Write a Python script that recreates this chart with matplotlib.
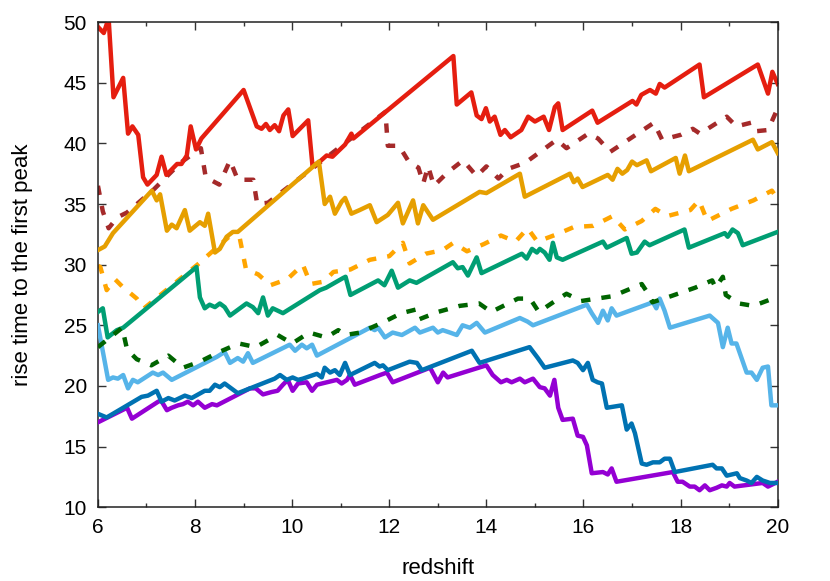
import matplotlib
matplotlib.use("Agg")
import matplotlib.pyplot as plt

plt.rcParams["font.family"] = ["Liberation Sans", "DejaVu Sans"]

# ---------------------------------------------------------------------
# Data
# ---------------------------------------------------------------------
red_x = [6.0, 6.12, 6.22, 6.32, 6.52, 6.62, 6.71, 6.83, 6.93, 7.02, 7.21, 7.31, 7.41,
         7.63, 7.72, 7.83, 7.91, 8.02, 8.13, 9.0, 9.27, 9.37, 9.46, 9.54, 9.64, 9.73,
         9.82, 9.92, 10.01, 10.33, 10.42, 10.57, 10.71, 10.83, 11.09, 11.22, 11.26,
         13.32, 13.39, 13.69, 13.8, 13.9, 13.99, 14.07, 14.17, 14.29, 14.38, 14.5,
         14.72, 14.86, 15.0, 15.18, 15.29, 15.41, 15.48, 15.57, 16.18, 16.29, 17.01,
         17.09, 17.19, 17.37, 17.49, 17.57, 17.67, 18.39, 18.48, 19.59, 19.8, 19.89, 20.0]
red_y = [49.6, 49.1, 50.3, 43.8, 45.4, 40.8, 41.4, 40.7, 37.2, 36.6, 37.4, 38.9, 37.4,
         38.3, 38.3, 39.0, 41.4, 39.5, 40.4, 44.4, 41.4, 41.2, 41.6, 41.1, 41.5, 41.0,
         42.3, 42.8, 40.6, 41.9, 38.1, 38.5, 39.0, 38.9, 39.9, 40.8, 40.4,
         47.2, 43.2, 44.2, 42.3, 42.0, 42.9, 41.8, 42.2, 40.7, 41.1, 40.5,
         41.1, 42.2, 41.8, 42.2, 41.1, 43.0, 43.3, 41.1, 42.7, 41.7, 43.5,
         43.2, 44.0, 44.4, 44.1, 44.9, 44.6, 46.5, 43.8, 46.5, 44.1, 45.9, 44.9]

brown_x = [6.0, 6.1, 6.22, 6.4, 6.6, 7.15, 7.7, 8.12, 8.22, 8.5, 8.72, 8.88, 9.2, 9.28,
           9.5, 11.92, 11.97, 12.2, 12.4, 12.6, 12.7, 12.8, 12.92, 13.2, 13.52, 13.8,
           14.0, 14.25, 14.45, 14.8, 15.45, 15.65, 16.1, 16.3, 16.55, 17.0, 17.45,
           17.62, 18.0, 18.25, 18.4, 18.95, 19.15, 19.45, 19.55, 19.8, 20.0]
brown_y = [36.5, 34.4, 33.0, 33.9, 34.3, 36.2, 38.4, 39.6, 37.2, 36.6, 38.6, 37.0, 37.0, 35.0,
           35.1, 42.6, 39.8, 39.8, 38.5, 38.0, 36.7, 38.1, 36.5, 37.6, 38.6, 37.3,
           38.1, 37.1, 37.9, 38.4, 40.3, 39.6, 40.8, 40.4, 39.3, 40.5, 41.7,
           40.3, 40.7, 41.2, 40.8, 42.2, 41.4, 41.7, 41.0, 41.1, 42.9]

orange_x = [6.0, 6.14, 6.31, 7.11, 7.21, 7.28, 7.42, 7.52, 7.62, 7.79, 7.89, 8.1, 8.2, 8.27,
            8.41, 8.51, 8.65, 8.78, 8.88, 10.55, 10.67, 10.78, 10.88, 11.02, 11.09, 11.22,
            11.39, 11.6, 11.74, 11.97, 12.18, 12.28, 12.49, 12.59, 12.7, 12.9, 13.86, 14.0,
            14.69, 14.79, 15.72, 15.8, 15.88, 15.98, 16.5, 16.6, 16.7, 16.8, 16.9, 17.0,
            17.1, 17.3, 17.39, 17.9, 17.98, 18.09, 18.17, 19.49, 19.59, 19.88, 20.0]
orange_y = [31.2, 31.5, 32.6, 36.1, 35.3, 35.8, 32.8, 33.3, 33.0, 34.5, 32.8, 33.5, 33.2, 34.2,
            31.0, 31.3, 32.3, 32.7, 32.7, 38.5, 35.0, 35.6, 34.2, 35.2, 35.5, 34.2,
            34.5, 34.9, 33.5, 34.1, 35.1, 33.4, 35.3, 33.4, 34.9, 33.7, 36.0, 35.9,
            37.5, 35.6, 37.5, 36.8, 37.1, 36.4, 37.4, 37.0, 37.9, 37.5, 37.8, 38.5,
            38.2, 38.6, 37.7, 38.8, 37.5, 39.0, 37.7, 40.3, 39.5, 40.1, 39.2]

lorange_x = [6.0, 6.05, 6.18, 6.35, 6.5, 6.8, 6.95, 8.05, 8.7, 8.92, 9.05, 9.3, 9.55, 9.9,
             10.22, 10.38, 10.65, 10.85, 11.2, 11.6, 12.0, 12.28, 12.42, 12.75, 13.1,
             13.32, 13.6, 13.95, 14.3, 14.6, 14.85, 15.05, 15.45, 15.8, 16.2, 16.6, 16.85,
             17.2, 17.48, 17.72, 18.2, 18.38, 18.55, 19.05, 19.5, 19.88, 20.0]
lorange_y = [29.9, 29.8, 27.9, 28.8, 28.2, 27.2, 26.4, 30.0, 32.3, 32.2, 29.6, 29.2, 28.3, 28.8,
             30.0, 28.4, 28.6, 29.4, 29.6, 30.4, 30.7, 31.8, 30.1, 30.9, 31.2,
             31.8, 31.1, 31.7, 32.4, 31.9, 33.0, 31.9, 32.5, 33.1, 33.2, 34.0, 32.9,
             33.6, 34.6, 34.0, 34.5, 35.3, 33.6, 34.6, 35.3, 36.1, 35.4]

green_x = [6.0, 6.1, 6.2, 6.39, 6.52, 8.03, 8.1, 8.2, 8.3, 8.41, 8.51, 8.61, 8.72, 9.06,
           9.19, 9.3, 9.4, 9.5, 9.6, 9.81, 10.57, 10.7, 11.05, 11.1, 11.2, 11.77, 11.9,
           12.05, 12.18, 12.42, 12.56, 13.31, 13.41, 13.51, 13.62, 13.8, 13.9, 14.73,
           14.83, 14.94, 15.04, 15.1, 15.2, 15.3, 15.37, 15.45, 15.57, 16.4, 16.48,
           16.89, 16.99, 17.1, 17.26, 17.36, 18.08, 18.17, 18.91, 18.97, 19.07, 19.18,
           19.28, 20.0]
green_y = [26.1, 26.4, 24.0, 24.6, 24.8, 29.8, 27.3, 26.4, 26.7, 26.5, 26.8, 26.5, 25.8, 26.8,
           26.5, 26.0, 27.3, 25.8, 26.4, 26.0, 27.9, 28.1, 28.9, 29.0, 27.5, 28.7, 28.3,
           29.5, 28.1, 28.7, 28.5, 30.2, 29.7, 29.8, 29.1, 30.6, 29.3, 30.9,
           30.5, 31.3, 31.0, 31.3, 31.0, 30.4, 31.8, 30.6, 30.4, 31.9, 31.4,
           32.2, 30.9, 31.0, 31.9, 31.6, 32.9, 31.4, 32.6, 32.3, 32.9, 32.6,
           31.6, 32.7]

dgreen_x = [6.0, 6.5, 6.6, 6.8, 7.1, 7.45, 7.75, 8.1, 8.5, 8.9, 9.25, 9.7, 10.0, 10.35,
            10.7, 10.95, 11.1, 11.4, 11.85, 12.25, 12.55, 12.62, 13.0, 13.45, 13.85, 14.1,
            14.65, 14.9, 15.08, 15.45, 15.65, 15.95, 16.6, 17.2, 17.3, 17.42, 17.8, 18.3,
            18.65, 18.72, 18.87, 18.93, 19.2, 19.5, 19.9, 20.0]
dgreen_y = [23.2, 24.8, 23.0, 22.2, 21.7, 22.5, 21.5, 22.0, 22.8, 23.5, 23.2, 24.2, 23.5, 24.4,
            24.0, 24.6, 24.2, 24.4, 25.2, 26.0, 26.3, 25.5, 26.1, 26.6, 26.8, 26.1,
            27.2, 27.2, 26.1, 27.1, 27.6, 27.0, 27.4, 28.4, 27.8, 26.9, 27.4, 28.1,
            28.7, 28.1, 29.0, 27.5, 26.8, 26.6, 27.2, 27.4]

sky_x = [6.0, 6.21, 6.31, 6.41, 6.52, 6.62, 6.72, 6.82, 7.13, 7.24, 7.34, 7.52, 8.45, 8.61,
         8.72, 8.88, 8.99, 9.09, 9.19, 9.95, 10.06, 10.2, 10.3, 10.41, 10.51, 11.6, 11.7,
         11.77, 11.91, 12.07, 12.26, 12.53, 12.63, 12.9, 13.0, 13.1, 13.25, 13.39, 13.51,
         13.66, 13.8, 13.97, 14.69, 14.85, 14.96, 16.07, 16.17, 16.3, 16.4, 16.5, 16.58,
         16.68, 17.43, 17.5, 17.57, 17.67, 17.78, 18.6, 18.77, 18.87, 18.97, 19.05, 19.15,
         19.36, 19.46, 19.57, 19.69, 19.8, 19.87, 20.0]
sky_y = [25.0, 20.5, 20.7, 20.6, 20.9, 19.8, 20.5, 20.3, 21.1, 20.9, 21.1, 20.5, 22.4, 22.8,
         21.9, 22.3, 22.0, 22.7, 21.9, 23.4, 22.9, 23.4, 23.1, 23.4, 22.5, 24.8, 24.6,
         24.8, 24.0, 24.4, 24.2, 24.8, 24.4, 24.8, 24.4, 24.6, 24.4, 24.2, 25.0,
         24.8, 25.2, 24.4, 25.6, 25.3, 25.0, 26.7, 26.0, 25.2, 26.2, 25.4, 26.4,
         25.8, 26.9, 26.4, 27.2, 26.2, 24.8, 25.8, 25.2, 23.2, 24.8, 23.5, 23.5,
         21.1, 21.1, 20.5, 21.5, 21.6, 18.4, 18.4]

blue_x = [6.0, 6.18, 6.52, 6.9, 7.03, 7.21, 7.31, 7.45, 7.58, 7.79, 7.93, 8.2, 8.3, 8.41,
          8.51, 8.61, 8.88, 9.64, 9.75, 9.89, 10.01, 10.12, 10.22, 10.51, 10.61, 10.67,
          10.78, 10.88, 10.98, 11.09, 11.19, 11.7, 11.8, 11.87, 11.97, 12.42, 12.57,
          12.67, 13.7, 13.86, 14.89, 15.06, 15.2, 15.78, 15.88, 15.99, 16.09, 16.19,
          16.29, 16.38, 16.48, 16.79, 16.89, 16.99, 17.06, 17.2, 17.3, 17.43, 17.57,
          17.67, 17.78, 17.88, 18.66, 18.74, 18.85, 18.95, 19.16, 19.22, 19.36, 19.46,
          19.57, 19.69, 19.84, 20.0]
blue_y = [17.7, 17.4, 18.2, 19.1, 19.2, 19.6, 18.7, 19.0, 18.8, 19.2, 19.0, 19.6, 19.6, 20.1,
          19.9, 20.2, 19.4, 20.6, 20.9, 20.5, 20.7, 20.5, 20.6, 21.0, 20.7, 21.5,
          21.1, 21.3, 20.9, 21.9, 20.9, 21.9, 21.6, 21.7, 21.3, 22.0, 21.9,
          21.3, 22.9, 21.9, 23.2, 22.3, 21.5, 22.1, 21.9, 21.3, 21.9, 20.5,
          20.3, 20.2, 18.2, 18.4, 16.4, 16.9, 16.1, 13.6, 13.5, 13.7, 13.7,
          14.0, 14.0, 12.9, 13.5, 13.2, 13.2, 12.6, 12.8, 12.4, 12.2, 12.0,
          12.5, 12.2, 12.0, 12.0]

purple_x = [6.0, 6.6, 6.7, 7.24, 7.3, 7.42, 7.52, 7.65, 7.75, 7.85, 7.96, 8.06, 8.2, 8.35,
            8.45, 9.13, 9.25, 9.4, 9.58, 9.7, 9.81, 9.91, 10.01, 10.12, 10.3, 10.41, 10.51,
            10.92, 11.02, 11.13, 11.19, 11.29, 11.81, 11.95, 12.07, 12.84, 13.0, 13.11,
            13.2, 14.0, 14.13, 14.3, 14.42, 14.52, 14.69, 14.79, 14.96, 15.1, 15.2, 15.31,
            15.4, 15.48, 15.57, 15.78, 15.88, 15.99, 16.07, 16.17, 16.4, 16.5, 16.58,
            16.68, 17.84, 17.94, 18.04, 18.19, 18.29, 18.39, 18.5, 18.6, 18.74, 18.85,
            18.95, 19.01, 19.11, 19.69, 19.8, 20.0]
purple_y = [17.0, 18.2, 17.3, 18.7, 18.8, 18.0, 18.2, 18.4, 18.5, 18.7, 18.4, 18.7, 18.2, 18.5,
            18.4, 19.8, 19.8, 19.3, 19.5, 19.6, 20.1, 20.5, 19.6, 20.2, 20.3, 19.6, 20.1,
            20.5, 20.2, 20.5, 20.9, 20.1, 20.9, 21.1, 20.3, 21.5, 20.3, 21.1,
            20.7, 21.7, 20.9, 20.3, 20.5, 20.3, 20.6, 20.3, 20.6, 19.9, 19.8, 19.2,
            20.5, 18.2, 17.2, 17.3, 15.9, 15.8, 15.1, 12.8, 12.9, 12.7, 13.2,
            12.1, 12.9, 12.1, 12.1, 11.7, 11.7, 11.4, 11.8, 11.4, 11.6, 11.8,
            11.7, 12.0, 11.7, 12.0, 11.7, 12.1]

# ---------------------------------------------------------------------
# Plot
# ---------------------------------------------------------------------
LW = 3.2
DASH = (0, (2.1, 2.5))

fig = plt.figure(figsize=(8.3, 5.81), dpi=100)
ax = fig.add_axes([0.118, 0.127, 0.819, 0.835])

ax.plot(red_x, red_y, color="#e51e10", lw=LW, zorder=2)
ax.plot(brown_x, brown_y, color="#a52a2a", lw=LW, ls=DASH, zorder=1.5)
ax.plot(orange_x, orange_y, color="#e69f00", lw=LW, zorder=3)
ax.plot(lorange_x, lorange_y, color="#ffa500", lw=LW, ls=DASH, zorder=2.5)
ax.plot(green_x, green_y, color="#009e73", lw=LW, zorder=4)
ax.plot(sky_x, sky_y, color="#56b4e9", lw=LW, zorder=4.5)
ax.plot(dgreen_x, dgreen_y, color="#006400", lw=LW, ls=DASH, zorder=5)
ax.plot(purple_x, purple_y, color="#9400d3", lw=LW, zorder=6)
ax.plot(blue_x, blue_y, color="#0072b2", lw=LW, zorder=7)

ax.set_xlim(6, 20)
ax.set_ylim(10, 50)
ax.set_xticks(range(6, 21, 2))
ax.set_xticks(range(6, 21, 1), minor=True)
ax.set_yticks(range(10, 51, 5))
ax.tick_params(which="both", direction="in", top=True, right=True,
               labelsize=15, width=1, color="#333333")
ax.tick_params(which="major", length=6, pad=8)
ax.tick_params(which="minor", length=3)
for s in ax.spines.values():
    s.set_linewidth(1.1)
    s.set_color("#222222")

ax.set_xlabel("redshift", fontsize=16, labelpad=15)
ax.set_ylabel("rise time to the first peak", fontsize=16, labelpad=22)

fig.savefig("out.png", dpi=100)
